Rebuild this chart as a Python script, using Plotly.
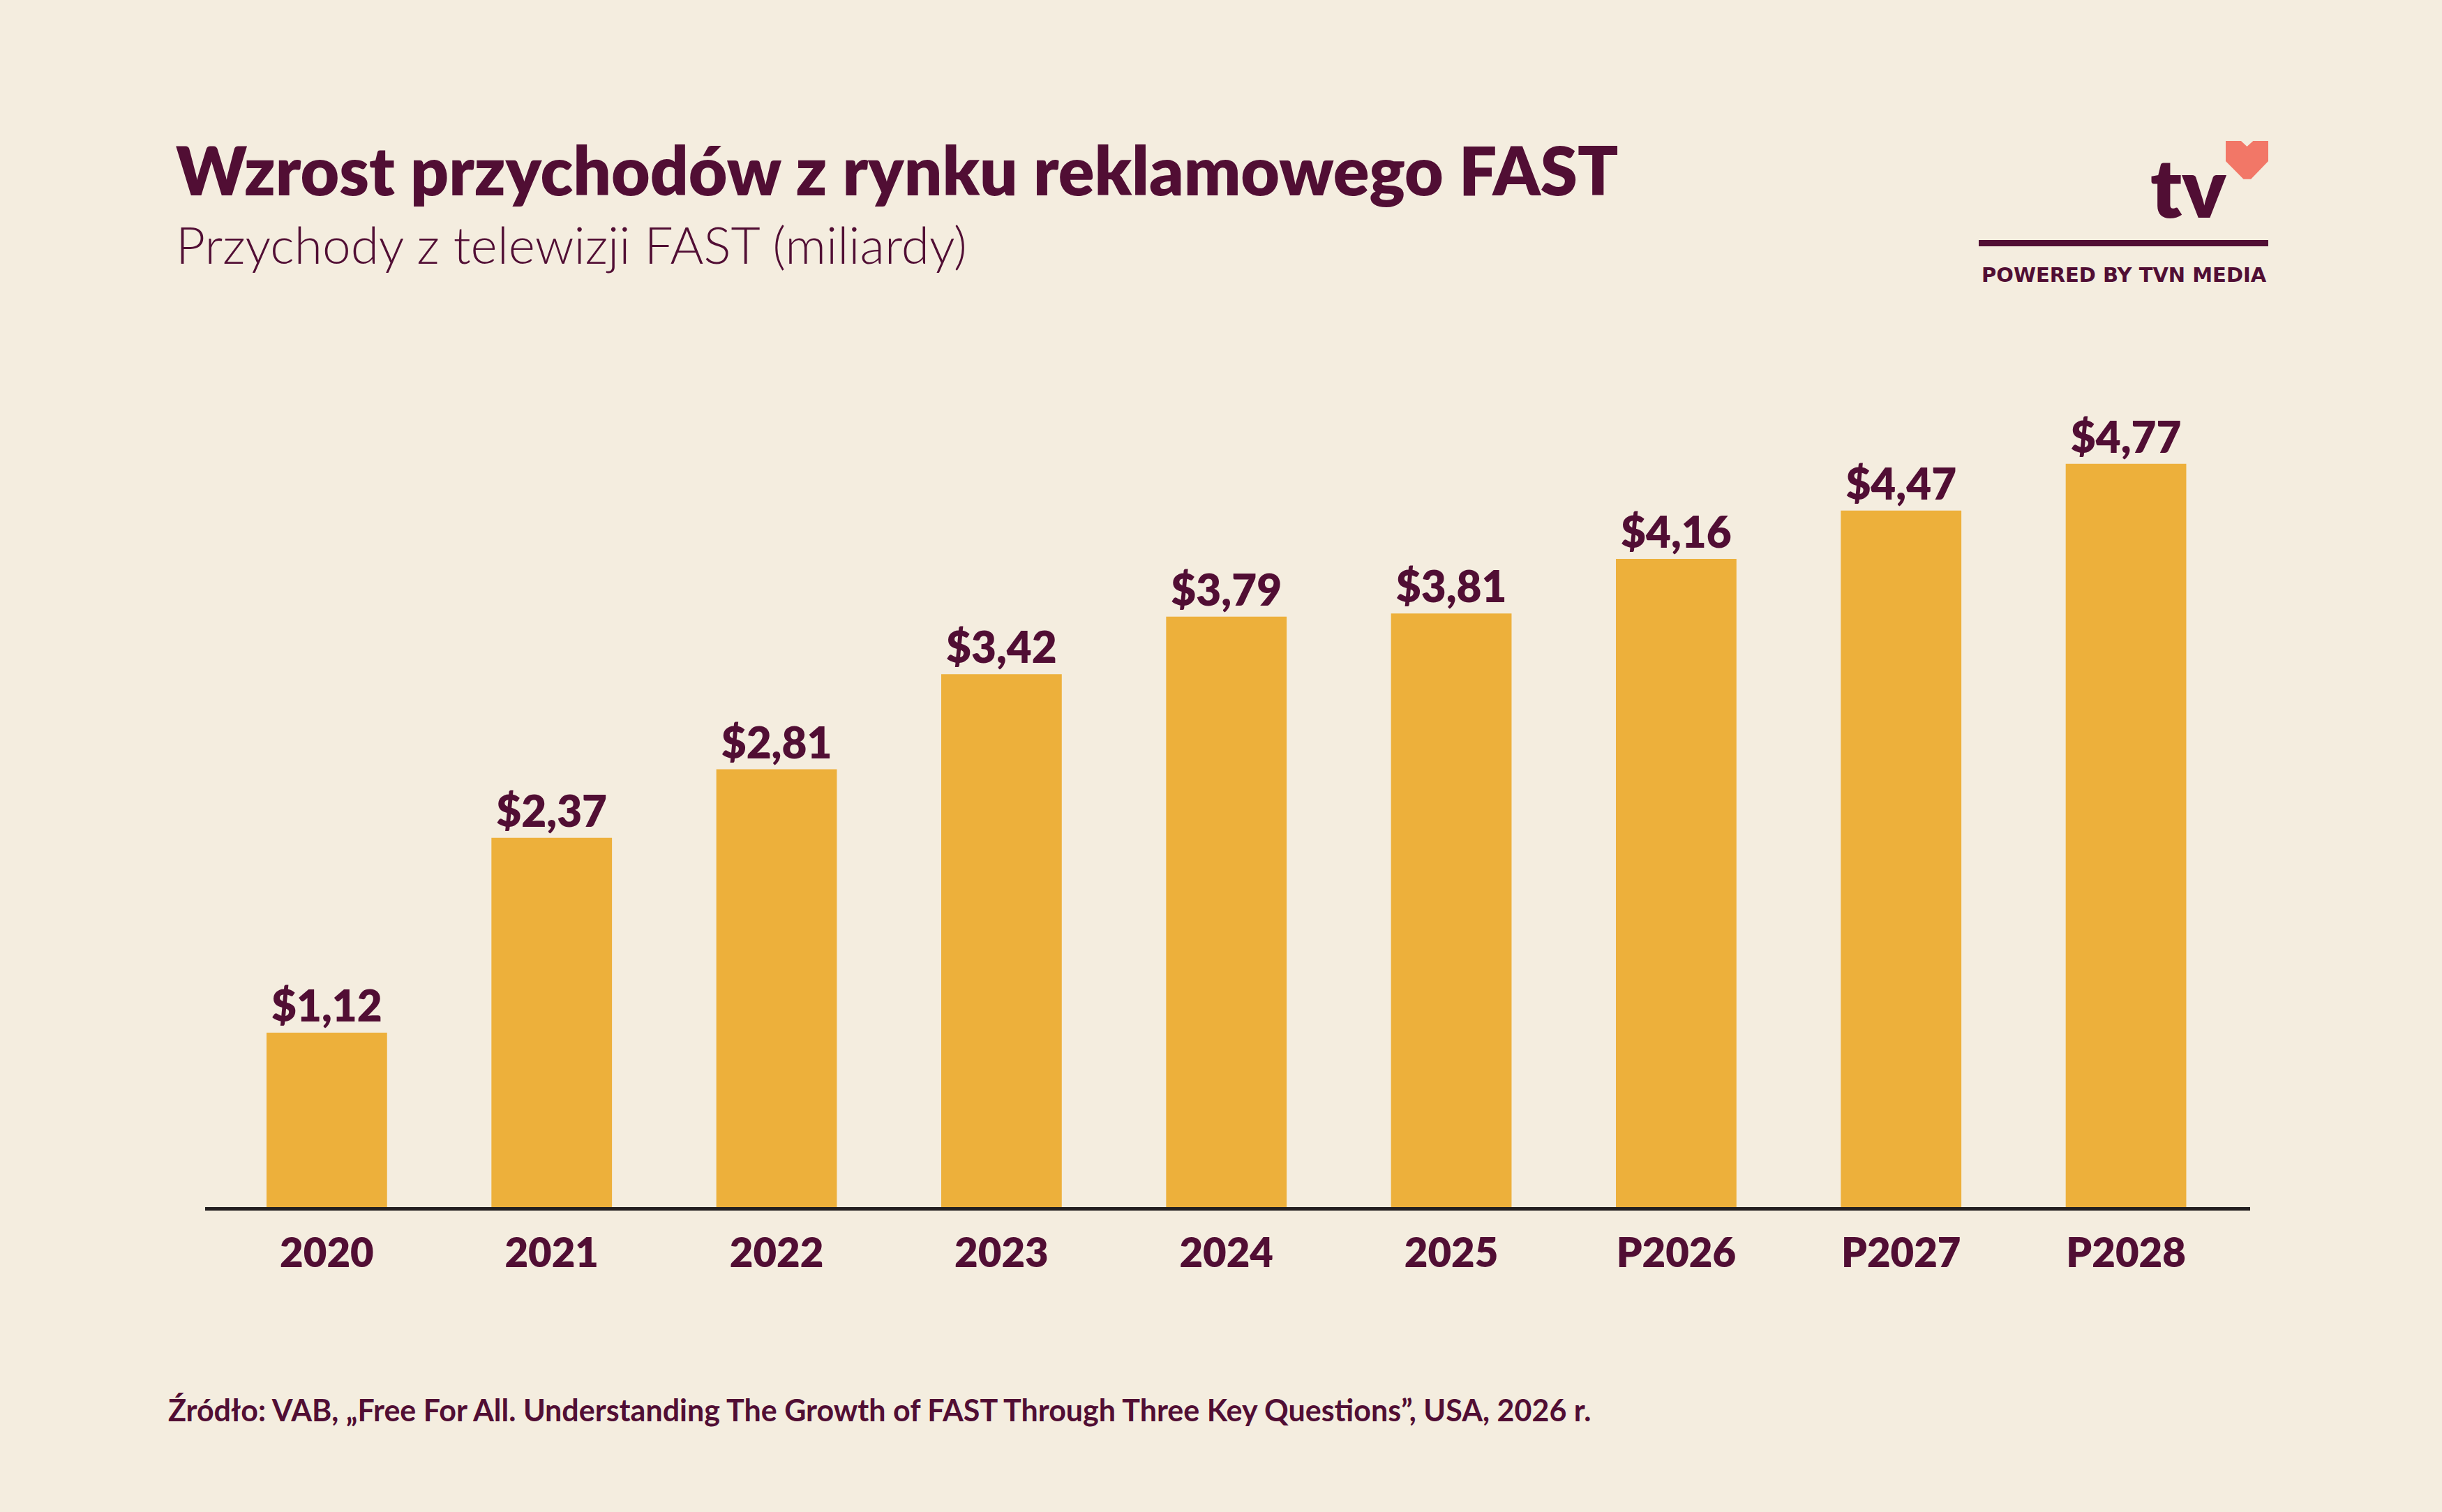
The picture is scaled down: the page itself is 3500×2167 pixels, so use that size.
import plotly.graph_objects as go

W, H = 3500, 2167

categories = ["2020", "2021", "2022", "2023", "2024", "2025", "P2026", "P2027", "P2028"]
values = [1.12, 2.37, 2.81, 3.42, 3.79, 3.81, 4.16, 4.47, 4.77]
value_labels = ["$" + f"{v:.2f}".replace(".", ",") for v in values]

title_text = "Wzrost przychodów z rynku reklamowego FAST"
subtitle_text = "Przychody z telewizji FAST (miliardy)"
source_text = "Źródło: VAB, „Free For All. Understanding The Growth of FAST Through Three Key Questions”, USA, 2026 r."
logo_text = "tv"
logo_sub = "POWERED BY TVN MEDIA"

BG = "#F4EDDF"
MAROON = "#510E34"
BAR = "#EDB03B"
HEART = "#F27767"
AXIS = "#231F20"
FONT = "Lato"


def px(x):
    return x / W


def py(y):
    return 1 - y / H


fig = go.Figure()
fig.add_trace(go.Bar(
    x=list(range(len(categories))),
    y=values,
    width=0.536,
    marker=dict(color=BAR, line=dict(width=0)),
    text=value_labels,
    textposition="outside",
    cliponaxis=False,
    textfont=dict(family=FONT, size=62, color=MAROON, weight=800),
    hoverinfo="skip",
))

# plot area in pixels
x_left, x_right = 294, 3225
y_base, y_top = 1730, 500
per_unit = 223.3

fig.update_layout(
    width=W, height=H,
    margin=dict(l=0, r=0, t=0, b=0),
    paper_bgcolor=BG, plot_bgcolor=BG,
    showlegend=False,
    xaxis=dict(
        domain=[px(x_left), px(x_right)],
        range=[-0.541, 8.552],
        tickmode="array",
        tickvals=list(range(len(categories))),
        ticktext=categories,
        tickfont=dict(family=FONT, size=58, color=MAROON, weight=800),
        showgrid=False, zeroline=False,
        showline=True, linecolor=AXIS, linewidth=5,
        ticks="outside", ticklen=11, tickcolor="rgba(0,0,0,0)",
        fixedrange=True,
    ),
    yaxis=dict(
        domain=[py(y_base), py(y_top)],
        range=[0, (y_base - y_top) / per_unit],
        visible=False, showgrid=False, zeroline=False,
        fixedrange=True,
    ),
)

annotations = [
    dict(text=title_text, x=px(250), y=py(242), xanchor="left", yanchor="middle",
         font=dict(family=FONT, size=96, color=MAROON, weight=800)),
    dict(text=subtitle_text, x=px(250), y=py(350), xanchor="left", yanchor="middle",
         font=dict(family=FONT, size=73, color=MAROON, weight=300)),
    dict(text=source_text, x=px(239), y=py(2020), xanchor="left", yanchor="middle",
         font=dict(family=FONT, size=43, color=MAROON, weight=700)),
    dict(text=logo_text, x=px(3193), y=py(267), xanchor="right", yanchor="middle",
         font=dict(family=FONT, size=118, color=MAROON, weight=800)),
    dict(text=logo_sub, x=px(3251), y=py(394), xanchor="right", yanchor="middle",
         font=dict(family="DejaVu Sans", size=29, color=MAROON, weight=700)),
]
for a in annotations:
    a.update(xref="paper", yref="paper", showarrow=False)
fig.update_layout(annotations=annotations)

# logo separator line
fig.add_shape(type="line", xref="paper", yref="paper",
              x0=px(2836), x1=px(3251), y0=py(348.5), y1=py(348.5),
              line=dict(color=MAROON, width=9))

# heart
heart_pts = [(3190, 202), (3212, 202), (3220.5, 210), (3229.3, 202), (3251, 202),
             (3251, 231), (3226.2, 256.7), (3215.5, 256.7), (3190, 231)]
path = "M " + " L ".join(f"{px(x)},{py(y)}" for x, y in heart_pts) + " Z"
fig.add_shape(type="path", xref="paper", yref="paper", path=path,
              fillcolor=HEART, line=dict(width=0))

fig.write_html("out.html", config={"displayModeBar": False},
               post_script="document.body.style.margin='0';")
